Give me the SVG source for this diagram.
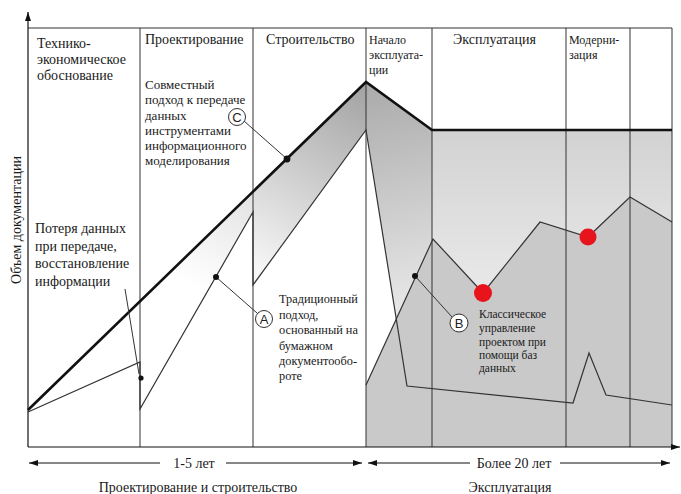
<svg xmlns="http://www.w3.org/2000/svg" width="681" height="494" viewBox="0 0 681 494">
<style>
.t{font-family:"Liberation Serif","Times New Roman",serif;fill:#1a1a1a}
.h14{font-size:14px}
.h13{font-size:13px}
.h12{font-size:12px}
.h123{font-size:12.3px}
.h11{font-size:11.5px}
.col{stroke:#333;stroke-width:1;fill:none}
.thin{stroke:#333;stroke-width:1.2;fill:none;stroke-linejoin:miter}
.lead{stroke:#333;stroke-width:1;fill:none}
.dot{fill:#111}
.red{fill:#e8141c}
.circ{fill:#fff;stroke:#333;stroke-width:1}
.cl{font-family:"Liberation Sans",Arial,sans-serif;font-size:13px;fill:#222;text-anchor:middle}
.arr{stroke:#111;stroke-width:1.2;fill:none}
</style>
<defs>
<marker id="ah" viewBox="0 0 9 6" refX="9" refY="3" markerWidth="9" markerHeight="6" orient="auto-start-reverse" markerUnits="userSpaceOnUse">
<path d="M0,0 L9,3 L0,6 z" fill="#111"/>
</marker>
<linearGradient id="gBand" gradientUnits="userSpaceOnUse" x1="366" y1="90" x2="260" y2="270">
<stop offset="0" stop-color="#a4a4a4"/>
<stop offset="1" stop-color="#f6f6f6"/>
</linearGradient>
<linearGradient id="gDesign" gradientUnits="userSpaceOnUse" x1="253" y1="200" x2="200" y2="290">
<stop offset="0" stop-color="#e4e4e4"/>
<stop offset="1" stop-color="#ffffff"/>
</linearGradient>
<linearGradient id="gPeak" gradientUnits="userSpaceOnUse" x1="370" y1="90" x2="420" y2="300">
<stop offset="0" stop-color="#acacac"/>
<stop offset="1" stop-color="#e6e6e6"/>
</linearGradient>
<linearGradient id="gLight" gradientUnits="userSpaceOnUse" x1="0" y1="130" x2="0" y2="320">
<stop offset="0" stop-color="#d2d2d2"/>
<stop offset="1" stop-color="#ededed"/>
</linearGradient>
</defs>
<rect width="681" height="494" fill="#fff"/>

<g id="fills">
<polygon points="141,300 253,192 253,212 141,409" fill="url(#gDesign)"/>
<polygon points="253,192 366,82 366,130 253,285" fill="url(#gBand)"/>
<polygon points="432,130 672,130 672,447 432,447" fill="url(#gLight)"/>
<polygon points="366,82 432,130 432,447 407,447 407,386 366,130" fill="url(#gPeak)"/>
<polygon points="366,385 433,239 483,293 540,222 588,237 630,197 672,222 672,447 366,447" fill="#c9c9c9"/>
</g>

<g id="grid">
<line class="col" x1="28" y1="28" x2="672" y2="28"/>
<line class="col" x1="140" y1="28" x2="140" y2="447"/>
<line class="col" x1="253" y1="28" x2="253" y2="447"/>
<line class="col" x1="366" y1="28" x2="366" y2="447"/>
<line class="col" x1="432" y1="28" x2="432" y2="447"/>
<line class="col" x1="566" y1="28" x2="566" y2="447"/>
<line class="col" x1="630" y1="28" x2="630" y2="447"/>
<line class="col" x1="672" y1="28" x2="672" y2="447"/>
<line class="arr" x1="28" y1="447" x2="28" y2="12" marker-end="url(#ah)"/>
<line class="arr" x1="28" y1="447" x2="680" y2="447" marker-end="url(#ah)"/>
</g>

<g id="connectors">
<polyline id="traditional" class="thin" points="28,412 140,362 140,409 253,212 253,285 366,130 407,386 573,403 589,353 606,395 672,405"/>
<polyline id="database" class="thin" points="366,385 433,239 483,293 540,222 588,237 630,197 672,222"/>
<polyline id="bim" points="28,410 366,82 432,130 672,130" fill="none" stroke="#111" stroke-width="2.6" stroke-linejoin="miter"/>
<line class="lead" x1="125" y1="289" x2="139" y2="374"/>
<line class="lead" x1="216" y1="277" x2="257" y2="313"/>
<line class="lead" x1="244" y1="121" x2="287" y2="159"/>
<line class="lead" x1="415" y1="276" x2="452" y2="317"/>
<line class="arr" x1="160" y1="463" x2="29" y2="463" marker-end="url(#ah)"/>
<line class="arr" x1="226" y1="463" x2="362" y2="463" marker-end="url(#ah)"/>
<line class="arr" x1="470" y1="463" x2="368" y2="463" marker-end="url(#ah)"/>
<line class="arr" x1="560" y1="463" x2="670" y2="463" marker-end="url(#ah)"/>
</g>

<g id="markers">
<circle class="dot" cx="141" cy="378" r="2.6"/>
<circle class="dot" cx="216" cy="277" r="3"/>
<circle class="dot" cx="287" cy="159" r="3.4"/>
<circle class="dot" cx="415" cy="276" r="3"/>
<circle class="red" cx="483" cy="293" r="9"/>
<circle class="red" cx="588" cy="237" r="8.5"/>
</g>

<g id="labelA"><circle class="circ" cx="264" cy="319" r="8.5"/><text class="cl" x="264" y="324">A</text></g>
<g id="labelB"><circle class="circ" cx="459" cy="323" r="9"/><text class="cl" x="459" y="328">B</text></g>
<g id="labelC"><circle class="circ" cx="237" cy="117" r="8.5"/><text class="cl" x="237" y="122">C</text></g>

<g id="headers" class="t">
<text class="h14" x="37" y="48">Технико-</text>
<text class="h14" x="37" y="64">экономическое</text>
<text class="h14" x="37" y="80">обоснование</text>
<text class="h14" x="145" y="44">Проектирование</text>
<text class="h14" x="266" y="44">Строительство</text>
<text class="h12" x="369" y="44">Начало</text>
<text class="h12" x="369" y="59">эксплуата-</text>
<text class="h12" x="369" y="74">ции</text>
<text class="h14" x="453" y="44">Эксплуатация</text>
<text class="h12" x="569" y="44">Модерни-</text>
<text class="h12" x="569" y="59">зация</text>
</g>

<g id="textC" class="t h13">
<text x="145" y="89">Совместный</text>
<text x="145" y="104">подход к передаче</text>
<text x="145" y="120">данных</text>
<text x="145" y="135">инструментами</text>
<text x="145" y="150">информационного</text>
<text x="145" y="165">моделирования</text>
</g>

<g id="textLoss" class="t h14">
<text x="35" y="233">Потеря данных</text>
<text x="35" y="251">при передаче,</text>
<text x="35" y="268">восстановление</text>
<text x="35" y="286">информации</text>
</g>

<g id="textA" class="t h123">
<text x="279" y="303">Традиционный</text>
<text x="279" y="319">подход,</text>
<text x="279" y="334">основанный на</text>
<text x="279" y="350">бумажном</text>
<text x="279" y="365">документообо-</text>
<text x="279" y="380">роте</text>
</g>

<g id="textB" class="t h11">
<text x="479" y="318">Классическое</text>
<text x="479" y="332">управление</text>
<text x="479" y="346">проектом при</text>
<text x="479" y="359">помощи баз</text>
<text x="479" y="372">данных</text>
</g>

<text class="t h14" transform="translate(21,220) rotate(-90)" text-anchor="middle">Объем документации</text>

<g id="bottom" class="t h14" text-anchor="middle">
<text x="194" y="468">1-5 лет</text>
<text x="514" y="468">Более 20 лет</text>
<text x="198" y="492">Проектирование и строительство</text>
<text x="510" y="492">Эксплуатация</text>
</g>
</svg>
